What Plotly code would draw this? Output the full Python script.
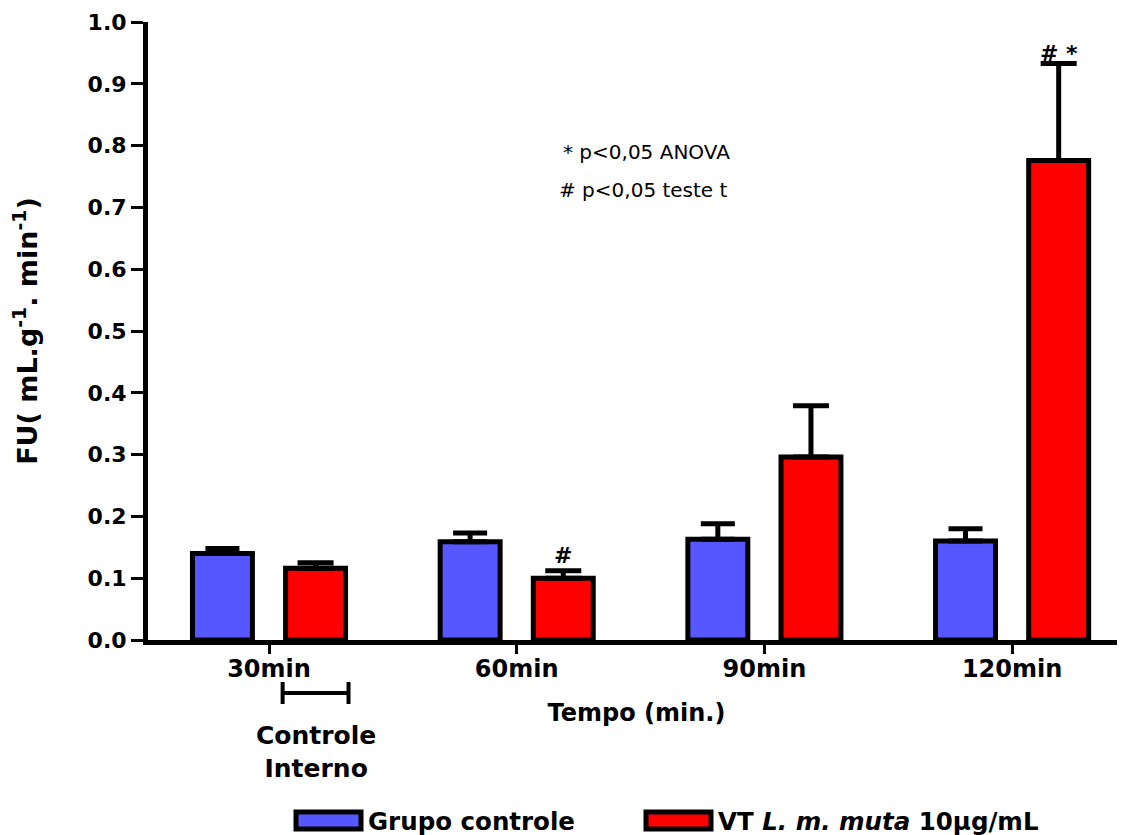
import plotly.graph_objects as go

categories = ["30min", "60min", "90min", "120min"]
controle_mean = [0.140, 0.159, 0.163, 0.160]
controle_err = [0.008, 0.014, 0.025, 0.020]
vt_mean = [0.116, 0.100, 0.296, 0.776]
vt_err = [0.009, 0.012, 0.083, 0.157]
y_ticks = [0.0, 0.1, 0.2, 0.3, 0.4, 0.5, 0.6, 0.7, 0.8, 0.9, 1.0]

BOLD = "DejaVu Sans, Liberation Sans, Arial, sans-serif"
BLUE = "#5757ff"
RED = "#ff0000"

# the page body has an 8px margin; the figure is sized so the page matches the target
OFF = 8
W, H = 1125 - OFF, 835 - OFF
L, R, T, B = 148 - OFF, 0, 22 - OFF, 195
PW, PH = W - L - R, H - T - B

bar_w = 0.242
gap_off = 0.188
cat_px = 247.7


def px_x(p):  # page pixel -> paper x
    return (p - OFF - L) / PW


def px_y(p):  # page pixel -> paper y
    return (H - B - (p - OFF)) / PH


fig = go.Figure()
fig.add_trace(go.Bar(
    x=categories, y=controle_mean, name="Grupo controle",
    width=bar_w, offset=-gap_off - bar_w / 2,
    marker=dict(color=BLUE, line=dict(color="black", width=5)),
    error_y=dict(type="data", array=controle_err, arrayminus=[0] * 4, symmetric=False,
                 color="black", thickness=5, width=17),
    showlegend=False,
))
fig.add_trace(go.Bar(
    x=categories, y=vt_mean, name="VT L. m. muta 10µg/mL",
    width=bar_w, offset=gap_off - bar_w / 2,
    marker=dict(color=RED, line=dict(color="black", width=5)),
    error_y=dict(type="data", array=vt_err, arrayminus=[0] * 4, symmetric=False,
                 color="black", thickness=5, width=18),
    showlegend=False,
))

fig.update_layout(
    width=W, height=H,
    margin=dict(l=L, r=R, t=T, b=B, pad=0),
    paper_bgcolor="white", plot_bgcolor="white",
    barmode="group",
    font=dict(family=BOLD, color="black"),
    xaxis=dict(
        type="category", range=[-0.4885, -0.4885 + PW / cat_px],
        showline=True, linecolor="black", linewidth=5,
        ticks="outside", ticklen=9, tickwidth=3, tickcolor="black",
        ticklabelstandoff=-6,
        tickfont=dict(family=BOLD, size=24, color="black", weight="bold"),
        showgrid=False, zeroline=False,
        title=dict(text="<b>Tempo (min.)</b>", font=dict(family=BOLD, size=24), standoff=24),
    ),
    yaxis=dict(
        range=[0, 1.0], tickvals=y_ticks,
        ticktext=[f"{v:.1f}" for v in y_ticks],
        showline=True, linecolor="black", linewidth=5,
        ticks="outside", ticklen=12, tickwidth=3, tickcolor="black",
        tickfont=dict(family=BOLD, size=22, color="black", weight="bold"),
        showgrid=False, zeroline=False,
        title=dict(text="<b>FU( mL.g<sup>-1</sup>. min<sup>-1</sup>)</b>",
                   font=dict(family=BOLD, size=27), standoff=46),
    ),
)

# significance marks
fig.add_annotation(x=1, xshift=gap_off * cat_px, y=vt_mean[1] + vt_err[1], yref="y",
                   text="<b>#</b>", showarrow=False, yanchor="bottom", yshift=1,
                   font=dict(family=BOLD, size=22, color="black"))
fig.add_annotation(x=3, xshift=gap_off * cat_px, y=vt_mean[3] + vt_err[3], yref="y",
                   text="<b># *</b>", showarrow=False, yanchor="bottom", yshift=-5,
                   font=dict(family=BOLD, size=22, color="black"))

# p-value notes
fig.add_annotation(xref="paper", yref="paper", x=px_x(561), y=px_y(152),
                   text="* p<0,05 ANOVA", showarrow=False, xanchor="left", yanchor="middle",
                   font=dict(family=BOLD, size=20, color="black"))
fig.add_annotation(xref="paper", yref="paper", x=px_x(557), y=px_y(190),
                   text="# p<0,05 teste t", showarrow=False, xanchor="left", yanchor="middle",
                   font=dict(family=BOLD, size=20, color="black"))

# Controle interno bracket below the 30min red bar
x0 = gap_off - bar_w / 2 - 0.012
x1 = gap_off + bar_w / 2 + 0.012
for (xa, xb, ya, yb) in [(x0, x1, 693, 693), (x0, x0, 682, 704), (x1, x1, 682, 704)]:
    fig.add_shape(type="line", xref="x", yref="paper", x0=xa, x1=xb,
                  y0=px_y(ya), y1=px_y(yb), line=dict(color="black", width=4))
fig.add_annotation(x=gap_off, xref="x", y=px_y(752), yref="paper",
                   text="<b>Controle<br>Interno</b>", showarrow=False,
                   xanchor="center", yanchor="middle",
                   font=dict(family=BOLD, size=25, color="black"))

# legend drawn as wide boxes like the original
legend_items = [("Grupo controle", BLUE, 296, 361),
                ("VT <i>L. m. muta</i> 10µg/mL", RED, 646, 711)]
for label, color, lx0, lx1 in legend_items:
    fig.add_shape(type="rect", xref="paper", yref="paper",
                  x0=px_x(lx0), x1=px_x(lx1), y0=px_y(812), y1=px_y(829),
                  fillcolor=color, line=dict(color="black", width=5))
    fig.add_annotation(xref="paper", yref="paper", x=px_x(lx1 + 5), y=px_y(821),
                       text=f"<b>{label}</b>", showarrow=False,
                       xanchor="left", yanchor="middle",
                       font=dict(family=BOLD, size=24.5, color="black"))

fig.write_html("out.html")
